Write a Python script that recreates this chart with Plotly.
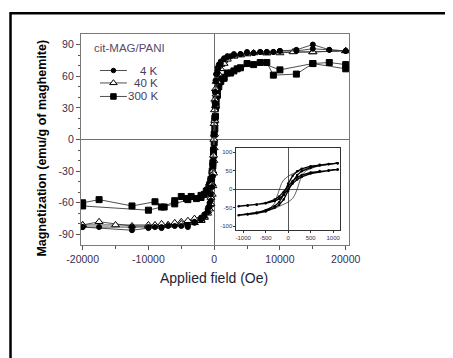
import plotly.graph_objects as go

# ---------------- data ----------------
# 4 K (filled circles): descending branch then ascending branch
H_4K_down = [20000, 17500, 15000, 12500, 10000, 9000, 8000, 7000, 6000, 5000, 4000, 3000, 2000, 1500, 1000, 700, 500, 300, 200, 100, 50, 0,
             -50, -100, -200, -300, -500, -700, -1000, -1500, -2000, -3000, -4000, -6000, -8000, -10000, -12500, -20000]
M_4K_down = [84, 85, 90, 85, 84, 83, 83, 83, 82, 83, 81, 81, 79, 77, 74, 71, 68, 62, 56, 45, 35, 22,
             5, -10, -25, -38, -52, -60, -66, -71, -74, -78, -83, -82, -84, -84, -86, -83]
H_4K_up = [-20000, -17500, -12500, -10000, -9000, -8000, -7000, -5000, -4000, -3000, -2000, -1500, -1000, -700, -500, -300, -200, -100, -50, 0,
           50, 100, 200, 300, 500, 700, 1000, 1500, 2000, 2500, 3000, 4000, 5000, 6000, 7000, 8000, 9000, 10000, 12500, 15000, 17500, 20000]
M_4K_up = [-83, -83, -83, -83, -83, -83, -82, -82, -81, -79, -76, -73, -69, -64, -58, -45, -35, -20, -8, 5,
           20, 32, 45, 55, 63, 68, 72, 76, 78, 79, 80, 81, 82, 82, 83, 83, 83, 84, 84, 86, 85, 84]

# 40 K (open triangles)
H_40K_down = [20000, 15000, 10000, 8000, 6000, 4000, 3000, 2000, 1500, 1000, 700, 500, 300, 200, 100, 50, 0,
              -50, -100, -200, -300, -500, -700, -1000, -1500, -2000, -2500, -3000, -4000, -5000, -6000, -7000, -8000, -9000, -10000, -12500, -17500, -20000]
M_40K_down = [84, 83, 82, 82, 82, 80, 79, 78, 75, 71, 67, 63, 55, 48, 38, 28, 15,
              0, -15, -30, -42, -55, -62, -68, -73, -76, -77, -75, -77, -78, -79, -81, -80, -81, -82, -82, -78, -81]
H_40K_up = [-20000, -15000, -10000, -7000, -5000, -3000, -2000, -1500, -1000, -700, -500, -300, -200, -100, -50, 0,
            50, 100, 200, 300, 500, 700, 1000, 1500, 2000, 3000, 5000, 8000, 12000, 15000, 20000]
M_40K_up = [-81, -81, -81, -81, -80, -79, -77, -74, -70, -66, -61, -52, -44, -32, -20, -8,
            5, 18, 32, 43, 55, 62, 67, 72, 76, 79, 81, 82, 83, 83, 84]

# 300 K (filled squares)
H_300K_down = [20000, 17500, 15000, 12500, 9000, 8000, 6000, 4000, 3000, 2000, 1500, 1000, 700, 500, 300, 200, 100, 0,
               -100, -200, -300, -500, -700, -1000, -1500, -2000, -2700, -3500, -4200, -5000, -6000, -7600, -9000, -12500, -17500, -20000]
M_300K_down = [71, 73, 72, 62, 61, 73, 71, 68, 65, 63, 59, 57, 53, 48, 38, 30, 18, 5,
               -10, -22, -30, -38, -43, -48, -52, -55, -56, -54, -56, -54, -58, -64, -59, -63, -57, -60]
H_300K_up = [-20000, -10000, -8000, -6000, -4000, -2000, -1200, -800, -500, -300, -200, -100, 0,
             100, 200, 300, 500, 700, 1000, 1500, 2500, 3500, 5000, 7000, 10000, 15000, 20000]
M_300K_up = [-63, -67, -64, -61, -57, -53, -49, -45, -40, -32, -25, -15, -3,
             10, 22, 32, 42, 50, 55, 58, 63, 67, 72, 73, 66, 72, 67]

# inset (low-field loops)
Hi_a = [1100, 900, 700, 500, 300, 200, 100, 0, -100, -200, -300, -500, -700, -900, -1100,
        -900, -700, -500, -300, -200, -100, 0, 100, 200, 300, 500, 700, 900, 1100]
Mi_a = [53, 51, 49, 45, 38, 32, 22, 8, -8, -20, -28, -37, -41, -44, -46,
        -44, -42, -38, -32, -26, -15, 0, 15, 26, 33, 42, 47, 50, 53]
Hi_b = [1100, 900, 700, 500, 300, 200, 100, 0, -100, -200, -300, -500, -700, -900, -1100,
        -900, -700, -500, -300, -200, -100, 0, 100, 200, 300, 500, 700, 900, 1100]
Mi_b = [70, 68, 66, 62, 55, 48, 36, 15, -15, -35, -45, -57, -63, -67, -70,
        -68, -65, -60, -50, -42, -28, -5, 20, 38, 48, 58, 64, 67, 70]
Hi_c = [1100, 800, 500, 300, 200, 100, 0, -100, -150, -200, -250, -300, -400, -600, -900, -1100,
        -800, -500, -300, -200, -100, 0, 100, 150, 200, 250, 300, 400, 600, 900, 1100]
Mi_c = [70, 67, 60, 52, 47, 42, 35, 25, 15, 0, -20, -38, -50, -60, -67, -70,
        -67, -60, -52, -47, -42, -35, -25, -15, 0, 20, 38, 50, 60, 67, 70]

# tick labels
x_ticks = [-20000, -10000, 0, 10000, 20000]
x_ticktext = ["-20000", "-10000", "0", "10000", "20000"]
y_ticks = [-90, -60, -30, 0, 30, 60, 90]
y_ticktext = ["-90", "-60", "-30", "0", "30", "60", "90"]
xi_ticks = [-1000, -500, 0, 500, 1000]
xi_ticktext = ["-1000", "-500", "0", "500", "1000"]
yi_ticks = [-100, -50, 0, 50, 100]
yi_ticktext = ["-100", "-50", "0", "50", "100"]
legend_labels = ["4 K", "40 K", "300 K"]
legend_title = "cit-MAG/PANI"

# ---------------- figure ----------------
LINE = "#3a3a3a"
TXT = "#3a2c4e"
fig = go.Figure()

def series(hd, md, hu, mu, symbol, fill, size):
    fig.add_trace(go.Scatter(
        x=hd + hu, y=md + mu, mode="lines+markers",
        line=dict(color=LINE, width=0.9),
        marker=dict(symbol=symbol, size=size, color=fill, line=dict(color="black", width=1)),
        showlegend=False, xaxis="x", yaxis="y"))

series(H_300K_down, M_300K_down, H_300K_up, M_300K_up, "square", "black", 6)
series(H_40K_down, M_40K_down, H_40K_up, M_40K_up, "triangle-up", "white", 7)
series(H_4K_down, M_4K_down, H_4K_up, M_4K_up, "circle", "black", 5)

# legend samples on a hidden axis overlaying the main plot (0..1 across the plot area)
leg_y = [0.827, 0.768, 0.704]
leg_sym = [("circle", "black", 4.5), ("triangle-up", "white", 6.5), ("square", "black", 5.5)]
for yy, (sym, fill, sz) in zip(leg_y, leg_sym):
    fig.add_trace(go.Scatter(x=[0.071, 0.121, 0.171], y=[yy, yy, yy], mode="lines",
                             line=dict(color=LINE, width=0.9), showlegend=False,
                             xaxis="x3", yaxis="y3", hoverinfo="skip"))
    fig.add_trace(go.Scatter(x=[0.121], y=[yy], mode="markers",
                             marker=dict(symbol=sym, size=sz, color=fill, line=dict(color="black", width=1)),
                             showlegend=False, xaxis="x3", yaxis="y3", hoverinfo="skip"))

# inset traces
fig.add_trace(go.Scatter(x=Hi_c, y=Mi_c, mode="lines", line=dict(color="#222", width=0.7),
                         showlegend=False, xaxis="x2", yaxis="y2"))
fig.add_trace(go.Scatter(x=Hi_a, y=Mi_a, mode="lines+markers", line=dict(color="black", width=1.3),
                         marker=dict(symbol="circle", size=2.5, color="black"),
                         showlegend=False, xaxis="x2", yaxis="y2"))
fig.add_trace(go.Scatter(x=Hi_b, y=Mi_b, mode="lines+markers", line=dict(color="black", width=1.3),
                         marker=dict(symbol="circle", size=2.5, color="black"),
                         showlegend=False, xaxis="x2", yaxis="y2"))

axis_common = dict(showgrid=False, showline=True, linecolor="#7a7a7a", linewidth=1.3, mirror=True,
                   ticks="outside", tickcolor="#555", zeroline=True, zerolinecolor="#6e6e6e",
                   zerolinewidth=1.2)

# page body has an 8px margin -> compensate in plot margins
fig.update_layout(
    width=453, height=358,
    margin=dict(l=73, r=112, t=26, b=121),
    paper_bgcolor="white", plot_bgcolor="white",
    font=dict(family="Liberation Sans, Arial", color=TXT),
    xaxis=dict(domain=[0, 1], range=[-20250, 20500], tickmode="array", tickvals=x_ticks, ticktext=x_ticktext,
               ticklen=4, tickwidth=1, tickfont=dict(size=10.5, color=TXT),
               minor=dict(tickmode="array", tickvals=[-15000, -5000, 5000, 15000], ticks="outside", ticklen=3,
                          tickcolor="#555"),
               anchor="y", **axis_common),
    yaxis=dict(domain=[0, 1], range=[-100, 100], tickmode="array", tickvals=y_ticks, ticktext=y_ticktext,
               ticklen=4, tickwidth=1, tickfont=dict(size=10.5, color=TXT),
               minor=dict(tickmode="array",
                          tickvals=[-80, -70, -50, -40, -20, -10, 10, 20, 40, 50, 70, 80],
                          ticks="outside", ticklen=2, tickcolor="#555"),
               anchor="x", **axis_common),
    xaxis2=dict(domain=[0.580, 0.966], range=[-1150, 1150], tickmode="array", tickvals=xi_ticks,
                ticktext=xi_ticktext, ticklen=2, tickwidth=0.7, tickfont=dict(size=6, color=TXT),
                anchor="y2", showgrid=False, showline=True, linecolor="#333", linewidth=1, mirror=True,
                ticks="outside", tickcolor="#333", zeroline=True, zerolinecolor="#555", zerolinewidth=1),
    yaxis2=dict(domain=[0.071, 0.458], range=[-110, 110], tickmode="array", tickvals=yi_ticks,
                ticktext=yi_ticktext, ticklen=2, tickwidth=0.7, tickfont=dict(size=6, color=TXT),
                anchor="x2", showgrid=False, showline=True, linecolor="#333", linewidth=1, mirror=True,
                ticks="outside", tickcolor="#333", zeroline=True, zerolinecolor="#555", zerolinewidth=1),
    xaxis3=dict(overlaying="x", range=[0, 1], visible=False, anchor="y3", fixedrange=True),
    yaxis3=dict(overlaying="y", range=[0, 1], visible=False, anchor="x3", fixedrange=True),
    shapes=[
        dict(type="rect", xref="paper", yref="paper", x0=-0.263, x1=1.37, y0=-0.70, y1=1.098,
             line=dict(color="black", width=2.5), fillcolor="rgba(0,0,0,0)"),
    ],
    annotations=[
        dict(text="<b>Magnetization (emu/g of maghemite)</b>", xref="paper", yref="paper", x=-0.147, y=0.46,
             textangle=-90, showarrow=False, font=dict(size=12.5, color="black", family="Liberation Sans, Arial"),
             xanchor="center", yanchor="middle"),
        dict(text="Applied field (Oe)", xref="paper", yref="paper", x=0.496, y=-0.156, showarrow=False,
             font=dict(size=14, color="#1e1e36"), xanchor="center", yanchor="middle"),
        dict(text=legend_title, xref="paper", yref="paper", x=0.041, y=0.934, showarrow=False,
             font=dict(size=11.5, color="#5b4b6b"), xanchor="left", yanchor="middle"),
    ] + [
        dict(text=lab, xref="paper", yref="paper", x=0.295, y=yy, showarrow=False,
             font=dict(size=11.5, color="#4a3a5e"), xanchor="right", yanchor="middle")
        for lab, yy in zip(legend_labels, leg_y)
    ],
)

fig.write_html("out.html")
